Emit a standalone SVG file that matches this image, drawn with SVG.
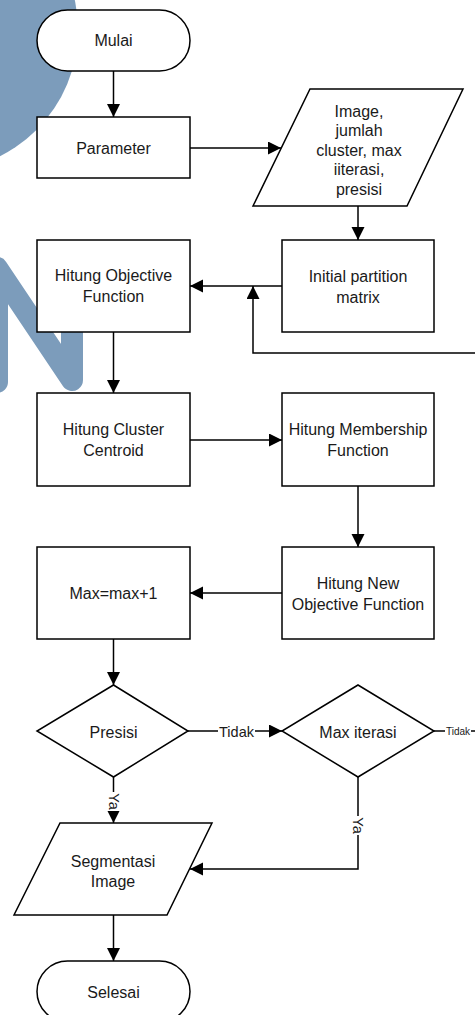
<svg xmlns="http://www.w3.org/2000/svg" width="475" height="1015" viewBox="0 0 475 1015">
<style>
.s{fill:#fff;stroke:#000;stroke-width:1.5}
.t{font-family:"Liberation Sans",Arial,sans-serif;font-size:16px;fill:#1a1a1a;text-anchor:middle;dominant-baseline:central}
.l{font-family:"Liberation Sans",Arial,sans-serif;font-size:14.5px;fill:#1a1a1a;text-anchor:middle;dominant-baseline:central}
.c{fill:none;stroke:#000;stroke-width:1.5}
.bg{fill:#fff;stroke:none}
</style>
<defs>
<marker id="ah" markerUnits="userSpaceOnUse" markerWidth="14" markerHeight="14" refX="13" refY="6.5" orient="auto">
<path d="M0,0 L13,6.5 L0,13 z" fill="#000"/>
</marker>
</defs>
<g id="watermark" fill="none">
<circle cx="-63" cy="30" r="141" fill="#7c9cbb" stroke="none"/>
<polyline points="-3,382 -3,268 72,380 72,260" stroke="#7c9cbb" stroke-width="22" stroke-linecap="round" stroke-linejoin="round"/>
</g>
<g id="connectors">
<line class="c" x1="113.5" y1="71" x2="113.5" y2="117" marker-end="url(#ah)"/>
<line class="c" x1="190" y1="148" x2="281" y2="148" marker-end="url(#ah)"/>
<line class="c" x1="358" y1="206" x2="358" y2="240" marker-end="url(#ah)"/>
<line class="c" x1="282" y1="286" x2="190" y2="286" marker-end="url(#ah)"/>
<polyline class="c" points="476,353 253,353 253,286" marker-end="url(#ah)"/>
<line class="c" x1="113.5" y1="332" x2="113.5" y2="393" marker-end="url(#ah)"/>
<line class="c" x1="190" y1="440" x2="282" y2="440" marker-end="url(#ah)"/>
<line class="c" x1="358" y1="486" x2="358" y2="547" marker-end="url(#ah)"/>
<line class="c" x1="282" y1="593" x2="190" y2="593" marker-end="url(#ah)"/>
<line class="c" x1="113.5" y1="639" x2="113.5" y2="685" marker-end="url(#ah)"/>
<line class="c" x1="188" y1="731" x2="282" y2="731" marker-end="url(#ah)"/>
<rect class="bg" x="218" y="723" width="37" height="16"/>
<text class="l" x="236.5" y="732">Tidak</text>
<line class="c" x1="434" y1="731" x2="476" y2="731"/>
<rect class="bg" x="445" y="725" width="26" height="12"/>
<text class="l" x="458" y="731" style="font-size:10px">Tidak</text>
<line class="c" x1="113.5" y1="777" x2="113.5" y2="823" marker-end="url(#ah)"/>
<rect class="bg" x="106" y="792" width="15" height="19"/>
<text class="l" transform="translate(113.5,801.5) rotate(90)">Ya</text>
<polyline class="c" points="358,777 358,869 190,869" marker-end="url(#ah)"/>
<rect class="bg" x="350.5" y="816" width="15" height="19"/>
<text class="l" transform="translate(358,825.5) rotate(90)">Ya</text>
<line class="c" x1="113.5" y1="915" x2="113.5" y2="961" marker-end="url(#ah)"/>
</g>
<g id="mulai">
<rect class="s" x="37" y="10" width="153" height="61" rx="30.5" ry="30.5"/>
<text class="t" x="113.5" y="40.5">Mulai</text>
</g>
<g id="parameter">
<rect class="s" x="37" y="117" width="153" height="61"/>
<text class="t" x="113.5" y="148">Parameter</text>
</g>
<g id="input">
<polygon class="s" points="310,89 463,89 407,206 253,206"/>
<text class="t" x="359" y="111">Image,</text>
<text class="t" x="359" y="130.5">jumlah</text>
<text class="t" x="359" y="150">cluster, max</text>
<text class="t" x="359" y="169.5">iiterasi,</text>
<text class="t" x="359" y="189">presisi</text>
</g>
<g id="initial">
<rect class="s" x="282" y="240" width="152" height="92"/>
<text class="t" x="358" y="276">Initial partition</text>
<text class="t" x="358" y="297">matrix</text>
</g>
<g id="hitung-objective">
<rect class="s" x="37" y="240" width="153" height="92"/>
<text class="t" x="113.5" y="275">Hitung Objective</text>
<text class="t" x="113.5" y="296">Function</text>
</g>
<g id="hitung-cluster">
<rect class="s" x="37" y="393" width="153" height="93"/>
<text class="t" x="113.5" y="429">Hitung Cluster</text>
<text class="t" x="113.5" y="450">Centroid</text>
</g>
<g id="hitung-membership">
<rect class="s" x="282" y="393" width="152" height="93"/>
<text class="t" x="358" y="429">Hitung Membership</text>
<text class="t" x="358" y="450">Function</text>
</g>
<g id="hitung-new-objective">
<rect class="s" x="282" y="547" width="152" height="92"/>
<text class="t" x="358" y="583">Hitung New</text>
<text class="t" x="358" y="604">Objective Function</text>
</g>
<g id="max">
<rect class="s" x="37" y="547" width="153" height="92"/>
<text class="t" x="113.5" y="593">Max=max+1</text>
</g>
<g id="presisi">
<polygon class="s" points="113.5,685 188,731 113.5,777 37,731"/>
<text class="t" x="113.5" y="732">Presisi</text>
</g>
<g id="max-iterasi">
<polygon class="s" points="358,685 434,731 358,777 282,731"/>
<text class="t" x="358" y="732">Max iterasi</text>
</g>
<g id="segmentasi">
<polygon class="s" points="60,823 212,823 167,915 14,915"/>
<text class="t" x="113" y="861">Segmentasi</text>
<text class="t" x="113" y="881">Image</text>
</g>
<g id="selesai">
<rect class="s" x="37" y="961" width="153" height="61" rx="30.5" ry="30.5"/>
<text class="t" x="113.5" y="992">Selesai</text>
</g>
</svg>
